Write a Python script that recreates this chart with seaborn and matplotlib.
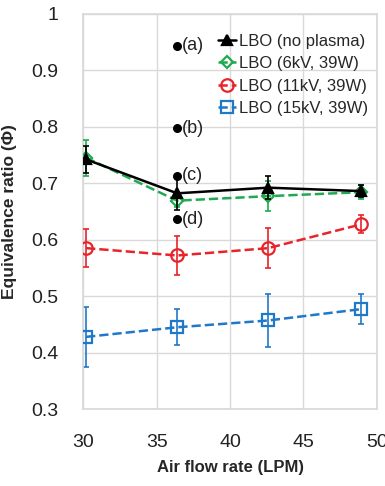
import numpy as np
import pandas as pd
import seaborn as sns
import matplotlib.pyplot as plt

# значения
flow = [30.2, 36.4, 42.6, 48.9]
series = ["LBO (no plasma)", "LBO (6kV, 39W)", "LBO (11kV, 39W)", "LBO (15kV, 39W)"]
phi_none = [0.742, 0.682, 0.692, 0.686]
phi_6kv = [0.745, 0.669, 0.677, 0.684]
phi_11kv = [0.585, 0.572, 0.585, 0.627]
phi_15kv = [0.428, 0.445, 0.457, 0.477]
err_none = [0.024, 0.030, 0.020, 0.010]
err_6kv = [0.032, 0.012, 0.026, 0.012]
err_11kv = [0.034, 0.034, 0.036, 0.016]
err_15kv = [0.053, 0.032, 0.047, 0.026]

mark_labels = ["(a)", "(b)", "(c)", "(d)"]
mark_x = [36.4, 36.4, 36.4, 36.4]
mark_y = [0.943, 0.797, 0.713, 0.636]

sns.set_theme(style="whitegrid")
plt.rcParams['font.family'] = ['Liberation Sans', 'DejaVu Sans']

fig = plt.figure(figsize=(3.85, 4.86), dpi=100)
ax = fig.add_axes([0.216, 0.158, 0.763, 0.814])

df = pd.DataFrame({
    'flow': flow * 4,
    'phi': phi_none + phi_6kv + phi_11kv + phi_15kv,
    'err': err_none + err_6kv + err_11kv + err_15kv,
    'series': np.repeat(series, 4),
})

colors = ['black', '#1faa50', '#e8242a', '#1f78c8']
markers = ['^', 'D', 'o', 's']
msizes = [7, 6, 9, 9]
styles = ['-', '--', '--', '--']

order = [3, 2, 1, 0]
for i in order:
    s = series[i]
    d = df[df['series'] == s]
    ax.errorbar(d['flow'], d['phi'], yerr=d['err'], fmt='none',
                ecolor=colors[i], elinewidth=1.2, capsize=2, capthick=1.2, zorder=2 + (3 - i))
    sns.lineplot(data=d, x='flow', y='phi', ax=ax, color=colors[i], linestyle=styles[i],
                 linewidth=1.8, marker=markers[i], markersize=msizes[i],
                 markerfacecolor=('black' if i == 0 else 'none'),
                 markeredgecolor=colors[i], markeredgewidth=1.6,
                 label=s, zorder=3 + (3 - i))

ax.scatter(mark_x, mark_y, color='black', s=30, zorder=10)
for lx, ly, t in zip(mark_x, mark_y, mark_labels):
    ax.text(lx + 0.3, ly, t, fontsize=13, va='center', ha='left', color='#222222')

ax.set_xlim(30, 50)
ax.set_ylim(0.3, 1.0)
ax.set_xticks([30, 35, 40, 45, 50])
ax.set_yticks([0.3, 0.4, 0.5, 0.6, 0.7, 0.8, 0.9, 1.0])
ax.set_yticklabels(['0.3', '0.4', '0.5', '0.6', '0.7', '0.8', '0.9', '1'])
ax.tick_params(axis='y', labelsize=14, pad=12, colors='#222222')
ax.tick_params(axis='x', labelsize=14, pad=12, colors='#222222')
ax.grid(color='#d9d9d9', linewidth=1)
for sp in ax.spines.values():
    sp.set_color('#d9d9d9')

ax.set_xlabel('Air flow rate (LPM)', fontsize=12, fontweight='bold', labelpad=6)
ax.set_ylabel('Equivalence ratio (Φ)', fontsize=12.5, fontweight='bold', labelpad=10)

handles, labels = ax.get_legend_handles_labels()
hmap = dict(zip(labels, handles))
ax.legend([hmap[s] for s in series], series, loc='upper right', frameon=False,
          fontsize=12, handlelength=1.1, handletextpad=0.2, labelspacing=0.45,
          borderaxespad=0.1, bbox_to_anchor=(1.0, 0.97))

fig.savefig('out.png', dpi=100)
